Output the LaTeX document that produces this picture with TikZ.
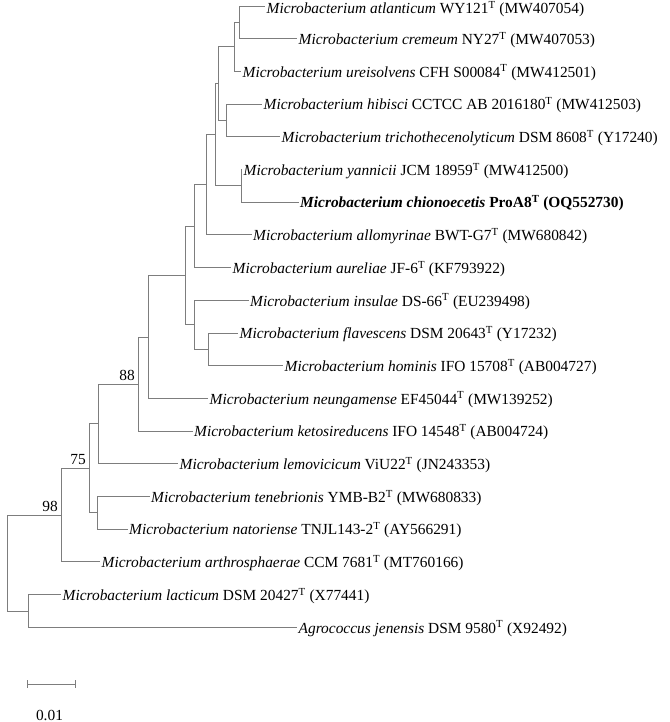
\documentclass[tikz,border=0pt]{standalone}
\usepackage{fontspec}
\setmainfont{Liberation Serif}
\definecolor{branch}{RGB}{125,125,125}
\tikzset{
  br/.style={draw=branch, line width=0.9pt},
  leaf/.style={anchor=west, inner xsep=1.5pt, inner ysep=0pt, text height=14.5pt, text depth=3pt, font=\fontsize{15.4pt}{18pt}\selectfont},
  topleaf/.style={leaf, text height=18pt},
  boot/.style={anchor=south east, inner sep=0pt, xshift=-3pt, yshift=3.5pt, font=\fontsize{15.4pt}{18pt}\selectfont},
  sblabel/.style={inner sep=0pt, font=\fontsize{15.4pt}{18pt}\selectfont}
}
\newcommand{\mspec}[2]{\textit{Microbacterium #1} #2}
\newcommand{\Tt}{\textsuperscript{T}}
\begin{document}
\begin{tikzpicture}[x=1pt,y=-1pt]
\useasboundingbox (0,0) rectangle (669,722);
% internal nodes
\coordinate (A) at (239,22.35);
\coordinate (B) at (234,46.9);
\coordinate (C) at (226,120.45);
\coordinate (D) at (218,83.7);
\coordinate (E) at (241,185.85);
\coordinate (F) at (215,134.8);
\coordinate (G) at (206,184.85);
\coordinate (H) at (194,226.2);
\coordinate (K) at (208,349.35);
\coordinate (J) at (194,324.8);
\coordinate (I) at (185,275.5);
\coordinate (L) at (148,336.95);
\coordinate (M) at (138,384.0);
\coordinate (N) at (98,423.9);
\coordinate (O) at (97,512.85);
\coordinate (P) at (89,468.4);
\coordinate (Q) at (61,515.15);
\coordinate (R) at (28,610.95);
\coordinate (root) at (7,563.05);
% leaves
\node[topleaf] (atl) at (265,6.0) {\mspec{atlanticum}{WY121\Tt{} (MW407054)}};
\node[leaf] (crem) at (297,38.7) {\mspec{cremeum}{NY27\Tt{} (MW407053)}};
\node[leaf] (ure) at (241,71.4) {\mspec{ureisolvens}{CFH S00084\Tt{} (MW412501)}};
\node[leaf] (hib) at (262,104.1) {\mspec{hibisci}{CCTCC AB 2016180\Tt{} (MW412503)}};
\node[leaf] (tri) at (280,136.8) {\mspec{trichothecenolyticum}{DSM 8608\Tt{} (Y17240)}};
\node[leaf] (yan) at (242,169.5) {\mspec{yannicii}{JCM 18959\Tt{} (MW412500)}};
\node[leaf] (chi) at (298.5,202.2) {\textbf{\mspec{chionoecetis}{ProA8\Tt{} (OQ552730)}}};
\node[leaf] (all) at (251.5,234.9) {\mspec{allomyrinae}{BWT-G7\Tt{} (MW680842)}};
\node[leaf] (aur) at (231,267.6) {\mspec{aureliae}{JF-6\Tt{} (KF793922)}};
\node[leaf] (ins) at (248.5,300.3) {\mspec{insulae}{DS-66\Tt{} (EU239498)}};
\node[leaf] (fla) at (238,333.0) {\mspec{flavescens}{DSM 20643\Tt{} (Y17232)}};
\node[leaf] (hom) at (283,365.7) {\mspec{hominis}{IFO 15708\Tt{} (AB004727)}};
\node[leaf] (neu) at (208,398.4) {\mspec{neungamense}{EF45044\Tt{} (MW139252)}};
\node[leaf] (ket) at (192.5,431.1) {\mspec{ketosireducens}{IFO 14548\Tt{} (AB004724)}};
\node[leaf] (lem) at (178,463.8) {\mspec{lemovicicum}{ViU22\Tt{} (JN243353)}};
\node[leaf] (ten) at (149.5,496.5) {\mspec{tenebrionis}{YMB-B2\Tt{} (MW680833)}};
\node[leaf] (nat) at (127.5,529.2) {\mspec{natoriense}{TNJL143-2\Tt{} (AY566291)}};
\node[leaf] (art) at (100,561.9) {\mspec{arthrosphaerae}{CCM 7681\Tt{} (MT760166)}};
\node[leaf] (lac) at (61,594.6) {\mspec{lacticum}{DSM 20427\Tt{} (X77441)}};
\node[leaf] (agr) at (297,627.3) {\textit{Agrococcus jenensis} DSM 9580\Tt{} (X92492)};
% branches
\draw[br] (A) |- (atl.west) (A) |- (crem.west);
\draw[br] (B) |- (A) (B) |- (ure.west);
\draw[br] (C) |- (hib.west) (C) |- (tri.west);
\draw[br] (D) |- (B) (D) |- (C);
\draw[br] (E) |- (yan.west) (E) |- (chi.west);
\draw[br] (F) |- (D) (F) |- (E);
\draw[br] (G) |- (F) (G) |- (all.west);
\draw[br] (H) |- (G) (H) |- (aur.west);
\draw[br] (K) |- (fla.west) (K) |- (hom.west);
\draw[br] (J) |- (ins.west) (J) |- (K);
\draw[br] (I) |- (H) (I) |- (J);
\draw[br] (L) |- (I) (L) |- (neu.west);
\draw[br] (M) |- (L) (M) |- (ket.west);
\draw[br] (N) |- (M) (N) |- (lem.west);
\draw[br] (O) |- (ten.west) (O) |- (nat.west);
\draw[br] (P) |- (N) (P) |- (O);
\draw[br] (Q) |- (P) (Q) |- (art.west);
\draw[br] (R) |- (lac.west) (R) |- (agr.west);
\draw[br] (root) |- (Q) (root) |- (R);
% bootstrap values
\node[boot] (b88) at (M) {88};
\node[boot] (b75) at (P) {75};
\node[boot] (b98) at (Q) {98};
% scale bar
\coordinate (s1) at (27,684);
\coordinate (s2) at (75,684);
\draw[br] (s1) -- (s2);
\draw[br] ([yshift=4pt]s1) -- ([yshift=-4pt]s1);
\draw[br] ([yshift=4pt]s2) -- ([yshift=-4pt]s2);
\node[sblabel] (sbl) at (49.5,715) {0.01};
\end{tikzpicture}
\end{document}
